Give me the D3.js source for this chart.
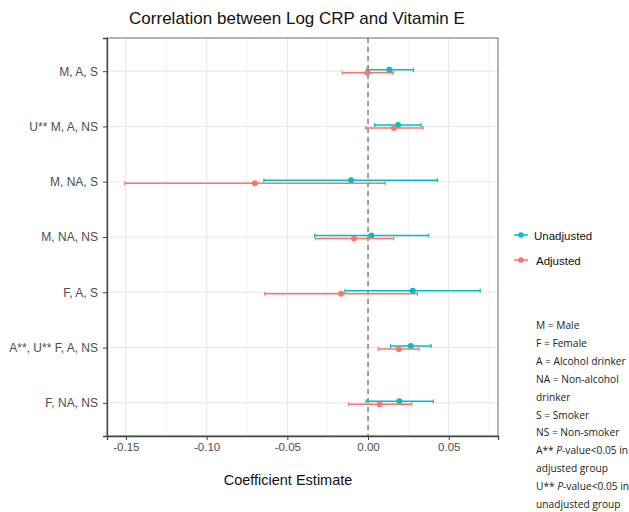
<!DOCTYPE html>
<html>
<head>
<meta charset="utf-8">
<script src="https://cdn.jsdelivr.net/npm/d3@7"></script>
<style>
  body { margin: 0; background: #fff; }
  svg { font-family: "Liberation Sans", Arial, sans-serif; }
</style>
</head>
<body>
<div id="chart"></div>
<script>
// groups, top to bottom
const groups = ["M, A, S", "U** M, A, NS", "M, NA, S", "M, NA, NS", "F, A, S", "A**, U** F, A, NS", "F, NA, NS"];

// unadjusted estimates with confidence limits
const unadjEst = [0.0132, 0.0186, -0.0105, 0.0021, 0.0277, 0.0265, 0.0194];
const unadjLow = [-0.0008, 0.0041, -0.0645, -0.0331, -0.0143, 0.0139, -0.0012];
const unadjHigh = [0.0281, 0.0329, 0.0430, 0.0376, 0.0695, 0.0391, 0.0405];

// adjusted estimates with confidence limits
const adjEst = [-0.0004, 0.0161, -0.0701, -0.0087, -0.0167, 0.0190, 0.0072];
const adjLow = [-0.0159, -0.0014, -0.1507, -0.0327, -0.0639, 0.0064, -0.0120];
const adjHigh = [0.0157, 0.0341, 0.0107, 0.0159, 0.0306, 0.0316, 0.0271];

const xTicks = [-0.15, -0.10, -0.05, 0.00, 0.05];
const xMinor = [-0.125, -0.075, -0.025, 0.025, 0.075];

const seriesNames = ["Unadjusted", "Adjusted"];
const seriesColors = ["#00BFC4", "#F8766D"];

const notes = [
  ["M = Male"], ["F = Female"], ["A = Alcohol drinker"], ["NA = Non-alcohol"], ["drinker"],
  ["S = Smoker"], ["NS = Non-smoker"], ["A** ", "P", "-value<0.05 in"], ["adjusted group"],
  ["U** ", "P", "-value<0.05 in"], ["unadjusted group"]
];

const W = 629, H = 512;
const panel = { left: 107, right: 498, top: 38, bottom: 436 };

const svg = d3.select("#chart").append("svg")
  .attr("width", W).attr("height", H);

// build rows for both series
const rows = [];
groups.forEach((g, i) => {
  rows.push({ group: g, series: 0, est: unadjEst[i], lo: unadjLow[i], hi: unadjHigh[i] });
  rows.push({ group: g, series: 1, est: adjEst[i], lo: adjLow[i], hi: adjHigh[i] });
});

const lo = d3.min(rows, d => d.lo), hi = d3.max(rows, d => d.hi);
const pad = (hi - lo) * 0.05;
const x = d3.scaleLinear().domain([lo - pad, hi + pad]).range([panel.left, panel.right]);

const y = d3.scalePoint().domain(groups).range([panel.top, panel.bottom]).padding(0.6);
const dodge = [-1.5, 1.5];

// grid
const grid = svg.append("g");
grid.selectAll(".minor").data(xMinor).join("line")
  .attr("x1", d => x(d)).attr("x2", d => x(d))
  .attr("y1", panel.top).attr("y2", panel.bottom)
  .attr("stroke", "#f0f0f0").attr("stroke-width", 0.8);
grid.selectAll(".major").data(xTicks).join("line")
  .attr("x1", d => x(d)).attr("x2", d => x(d))
  .attr("y1", panel.top).attr("y2", panel.bottom)
  .attr("stroke", "#e8e8e8").attr("stroke-width", 1.1);
grid.selectAll(".hgrid").data(groups).join("line")
  .attr("x1", panel.left).attr("x2", panel.right)
  .attr("y1", d => y(d)).attr("y2", d => y(d))
  .attr("stroke", "#e8e8e8").attr("stroke-width", 1.1);

// zero reference line
svg.append("line")
  .attr("x1", x(0)).attr("x2", x(0))
  .attr("y1", panel.top).attr("y2", panel.bottom)
  .attr("stroke", "#8c8c8c").attr("stroke-width", 1.6)
  .attr("stroke-dasharray", "5,4");

// error bars + points
const marks = svg.append("g").selectAll("g").data(rows).join("g")
  .attr("transform", d => `translate(0,${y(d.group) + dodge[d.series]})`);
marks.append("line")
  .attr("x1", d => x(d.lo)).attr("x2", d => x(d.hi))
  .attr("stroke", d => seriesColors[d.series]).attr("stroke-width", 1.5);
marks.append("line")
  .attr("x1", d => x(d.lo)).attr("x2", d => x(d.lo))
  .attr("y1", -2).attr("y2", 2)
  .attr("stroke", d => seriesColors[d.series]).attr("stroke-width", 1.2);
marks.append("line")
  .attr("x1", d => x(d.hi)).attr("x2", d => x(d.hi))
  .attr("y1", -2).attr("y2", 2)
  .attr("stroke", d => seriesColors[d.series]).attr("stroke-width", 1.2);
marks.append("circle")
  .attr("cx", d => x(d.est)).attr("r", 3)
  .attr("fill", d => seriesColors[d.series]);

// panel border
svg.append("rect")
  .attr("x", panel.left).attr("y", panel.top)
  .attr("width", panel.right - panel.left).attr("height", panel.bottom - panel.top)
  .attr("fill", "none").attr("stroke", "#6a6a6a").attr("stroke-width", 1);

// axes
const xAxis = svg.append("g")
  .attr("transform", `translate(0,${panel.bottom})`)
  .call(d3.axisBottom(x).tickValues(xTicks)
    .tickFormat(d => d3.format(".2f")(d).replace("\u2212", "-"))
    .tickSize(4).tickPadding(3));
const yAxis = svg.append("g")
  .attr("transform", `translate(${panel.left},0)`)
  .call(d3.axisLeft(y).tickSize(4).tickPadding(5));
[xAxis, yAxis].forEach(a => {
  a.select(".domain").attr("stroke", "#444").attr("stroke-width", 1.3);
  a.selectAll(".tick line").attr("stroke", "#444");
  a.selectAll(".tick text").attr("fill", "#4d4d4d");
});
xAxis.selectAll(".tick text").style("font-size", "11.5px");
yAxis.selectAll(".tick text").style("font-size", "12px");

// titles
svg.append("text")
  .attr("x", 297).attr("y", 24)
  .attr("text-anchor", "middle")
  .style("font-size", "17px").attr("fill", "#111")
  .text("Correlation between Log CRP and Vitamin E");
svg.append("text")
  .attr("x", 288).attr("y", 485)
  .attr("text-anchor", "middle")
  .style("font-size", "14.5px").attr("fill", "#111")
  .text("Coefficient Estimate");

// legend
const legend = svg.append("g").selectAll("g").data(seriesNames).join("g")
  .attr("transform", (d, i) => `translate(521,${235 + i * 25})`);
legend.append("line")
  .attr("x1", -7).attr("x2", 7)
  .attr("stroke", (d, i) => seriesColors[i]).attr("stroke-width", 1.5);
legend.append("circle").attr("r", 2.8).attr("fill", (d, i) => seriesColors[i]);
legend.append("text")
  .attr("x", (d, i) => 13 + i * 2).attr("y", 4.5)
  .style("font-size", "11.5px").attr("fill", "#111")
  .text(d => d);

// notes
const noteText = svg.append("g").selectAll("text").data(notes).join("text")
  .attr("x", 536).attr("y", (d, i) => 329 + i * 17.9)
  .style("font-family", "'Open Sans', sans-serif")
  .style("font-size", "10.2px").attr("fill", "#222");
noteText.selectAll("tspan").data(d => d).join("tspan")
  .style("font-style", t => t === "P" ? "italic" : "normal")
  .text(t => t);
</script>
</body>
</html>
